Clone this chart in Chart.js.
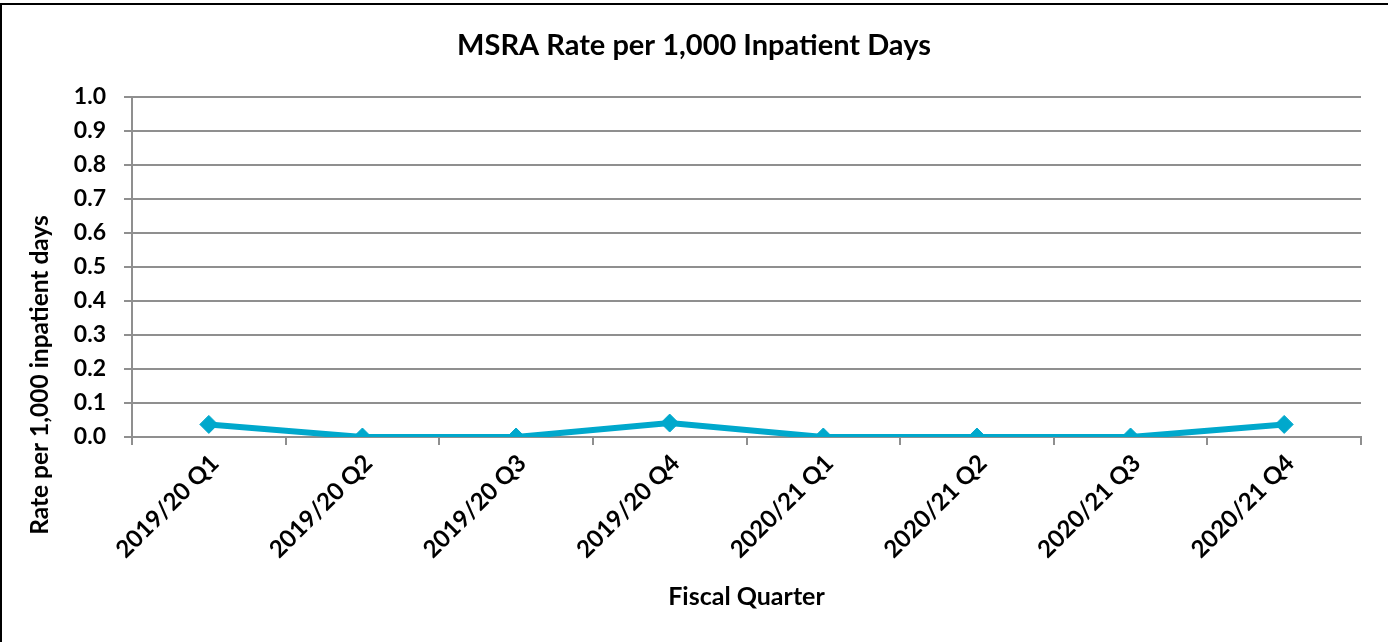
<!DOCTYPE html>
<html>
<head>
<meta charset="utf-8">
<script src="https://cdn.jsdelivr.net/npm/chart.js@4.4.1/dist/chart.umd.min.js"></script>
<style>
  html, body { margin: 0; padding: 0; background: #fff; overflow: hidden; }
  #wrap { position: relative; width: 1388px; height: 642px; }
  #frame { position: absolute; left: 0; top: 3px; width: 1500px; height: 700px; border-top: 2px solid #000; border-left: 2px solid #000; }
  canvas { position: absolute; left: 0; top: 0; }
</style>
</head>
<body>
<div id="wrap">
  <div id="frame"></div>
  <canvas id="rateChart" width="1388" height="642"></canvas>
</div>
<script>
const quarters = ["2019/20 Q1", "2019/20 Q2", "2019/20 Q3", "2019/20 Q4", "2020/21 Q1", "2020/21 Q2", "2020/21 Q3", "2020/21 Q4"];
const msraRate = [0.037, 0, 0, 0.041, 0, 0, 0, 0.037];
const yTicks = [0, 0.1, 0.2, 0.3, 0.4, 0.5, 0.6, 0.7, 0.8, 0.9, 1.0];
const yTitle = "Rate per 1,000 inpatient days";

const fontFamily = "Lato, 'Open Sans', sans-serif";
const lineBlue = "#00a8cc";
const gridGrey = "#8f8f8f";

// excel puts the y title lower than the plot centre, so draw it by hand
const yTitlePlugin = {
    id: "yTitlePlugin",
    afterDraw(chart) {
        const c = chart.ctx;
        c.save();
        c.translate(40, 375);
        c.rotate(-Math.PI / 2);
        c.font = "bold 24.5px " + fontFamily;
        c.fillStyle = "#000";
        c.textAlign = "center";
        c.textBaseline = "middle";
        c.fillText(yTitle, 0, 0);
        c.restore();
    }
};

const ctx = document.getElementById("rateChart").getContext("2d");

new Chart(ctx, {
    type: "line",
    data: {
        labels: quarters,
        datasets: [{
            label: "MSRA Rate",
            data: msraRate,
            borderColor: lineBlue,
            backgroundColor: lineBlue,
            borderWidth: 6,
            pointStyle: "rectRot",
            pointRadius: 9,
            pointBorderWidth: 1,
            tension: 0
        }]
    },
    plugins: [yTitlePlugin],
    options: {
        responsive: false,
        animation: false,
        layout: { padding: { top: 0, right: 27, bottom: 0, left: 27 } },
        plugins: {
            legend: { display: false },
            tooltip: { enabled: false },
            title: {
                display: true,
                text: "MSRA Rate per 1,000 Inpatient Days",
                color: "#000",
                font: { family: fontFamily, size: 29, weight: "bold" },
                padding: { top: 28, bottom: 34 }
            }
        },
        scales: {
            x: {
                offset: true,
                grid: { offset: true, drawOnChartArea: false, drawTicks: true, tickLength: 8, color: gridGrey, lineWidth: 2 },
                border: { display: true, color: gridGrey, width: 2 },
                ticks: {
                    color: "#000",
                    font: { family: fontFamily, size: 24, weight: "bold" },
                    minRotation: 45,
                    maxRotation: 45,
                    autoSkip: false,
                    padding: 4,
                    labelOffset: 6
                },
                title: {
                    display: true,
                    text: "Fiscal Quarter",
                    color: "#000",
                    font: { family: fontFamily, size: 25, weight: "bold" },
                    padding: { top: 0, bottom: 30 }
                },
                afterFit: (scale) => { scale.height = 205; }
            },
            y: {
                min: 0,
                max: 1,
                afterBuildTicks: (scale) => { scale.ticks = yTicks.map(v => ({ value: v })); },
                grid: { color: gridGrey, lineWidth: 2, tickLength: 8, drawTicks: true },
                border: { display: true, color: gridGrey, width: 2 },
                ticks: {
                    color: "#000",
                    font: { family: fontFamily, size: 23, weight: "bold" },
                    padding: 18,
                    callback: (v) => Number(v).toFixed(1)
                },
                title: { display: false },
                afterFit: (scale) => { scale.width = 105; }
            }
        }
    }
});
</script>
</body>
</html>
